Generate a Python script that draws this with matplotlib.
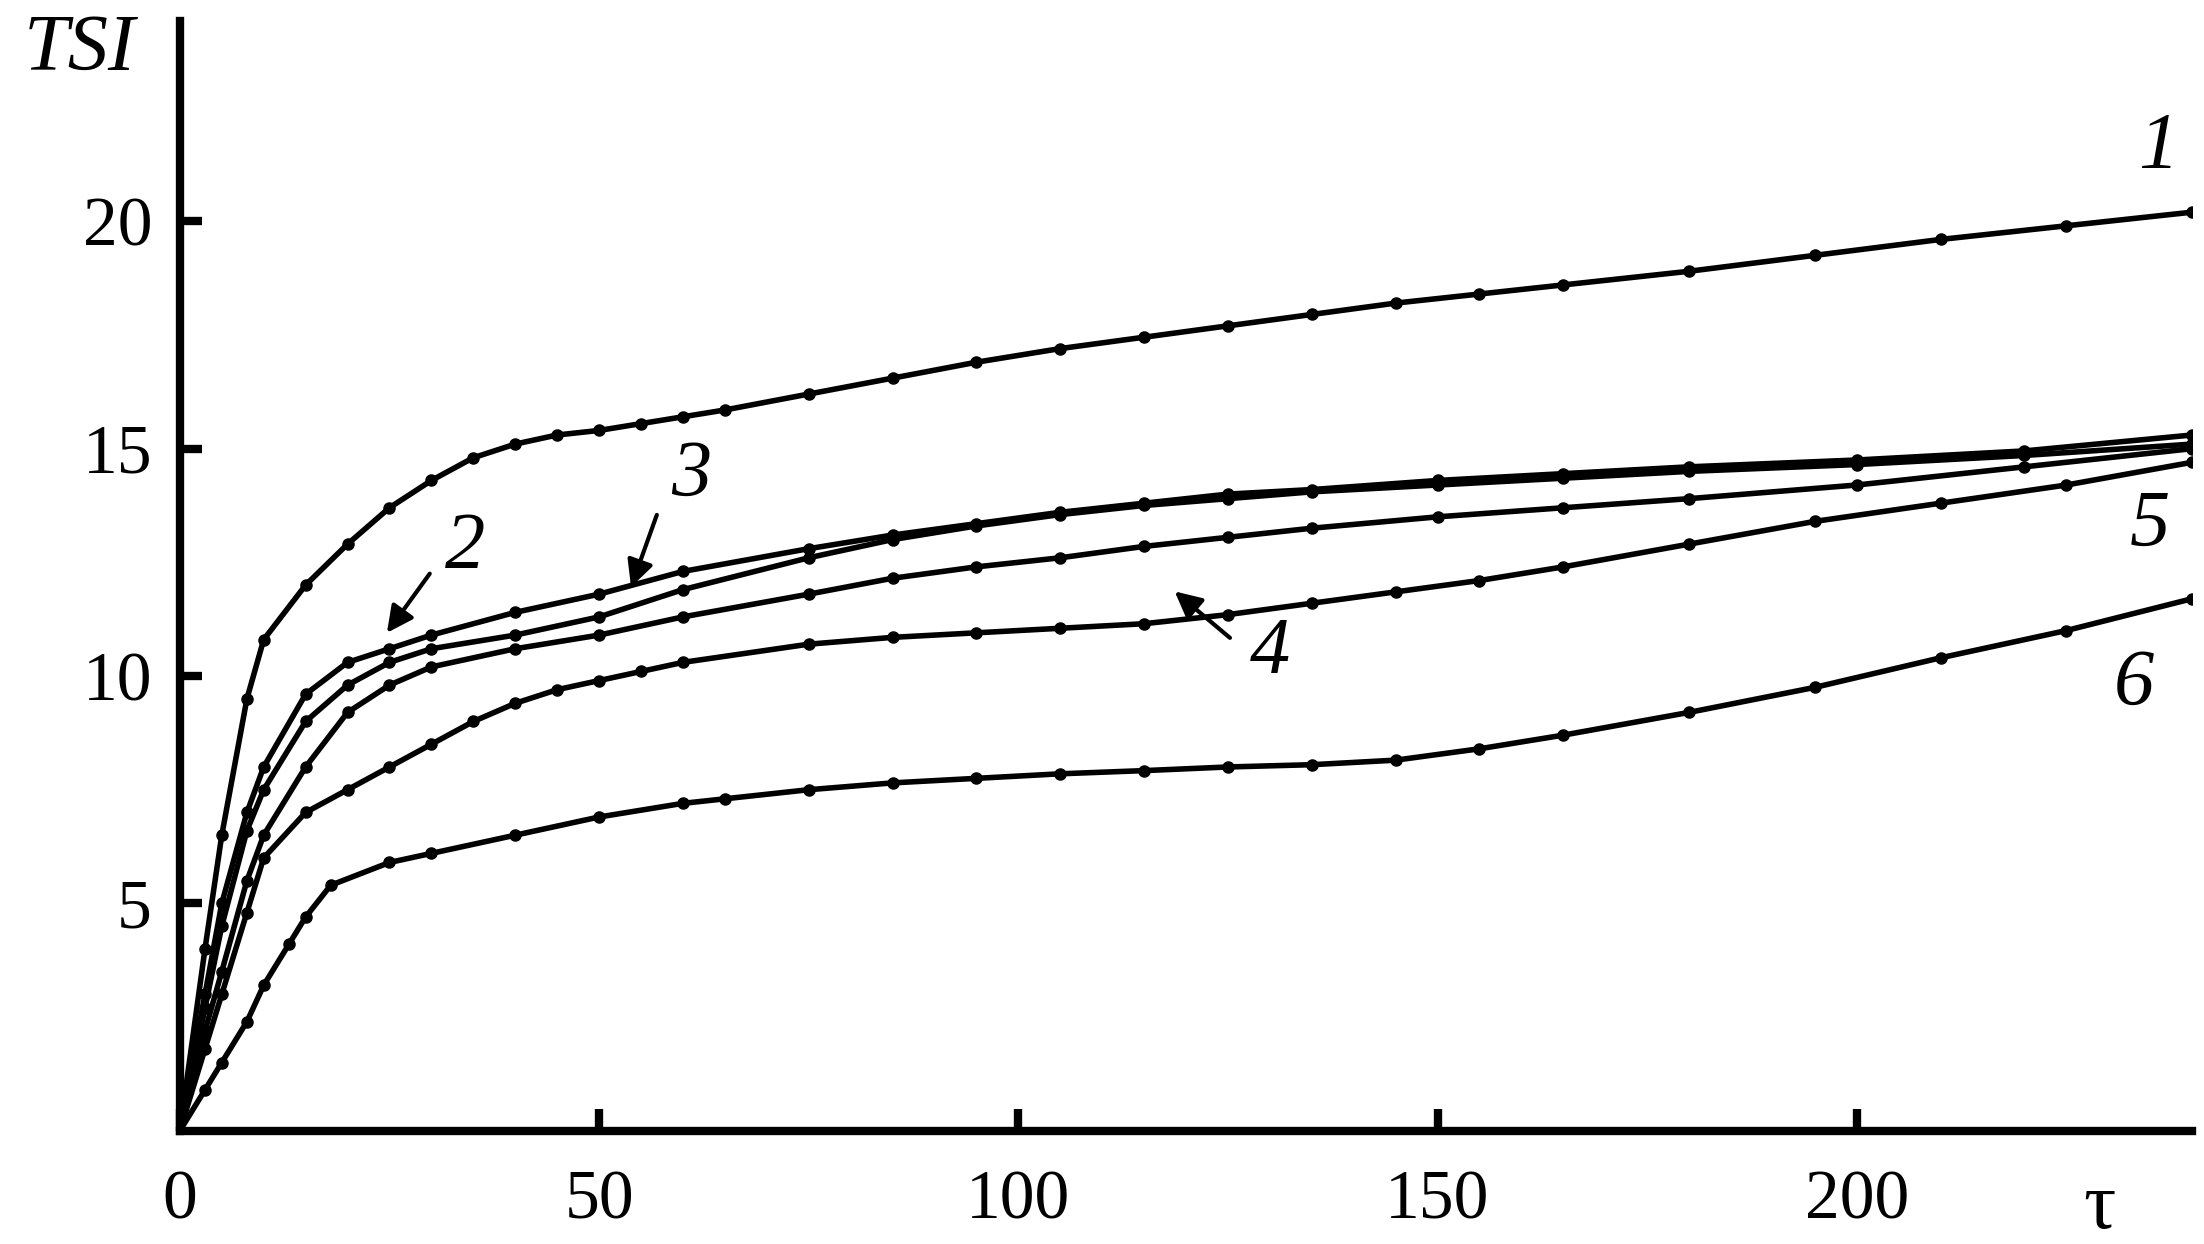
import matplotlib
matplotlib.use("Agg")
import matplotlib.pyplot as plt

x1 = [0, 3, 5, 8, 10, 15, 20, 25, 30, 35, 40, 45, 50, 55, 60, 65, 75, 85, 95, 105, 115, 125, 135, 145, 155, 165, 180, 195, 210, 225, 240]
y1 = [0, 4.0, 6.5, 9.5, 10.8, 12.0, 12.9, 13.7, 14.3, 14.8, 15.1, 15.3, 15.4, 15.55, 15.7, 15.85, 16.2, 16.55, 16.9, 17.2, 17.45, 17.7, 17.95, 18.2, 18.4, 18.6, 18.9, 19.25, 19.6, 19.9, 20.2]
x2 = [0, 3, 5, 8, 10, 15, 20, 25, 30, 40, 50, 60, 75, 85, 95, 105, 115, 125, 135, 150, 165, 180, 200, 220, 240]
y2 = [0, 3.0, 5.0, 7.0, 8.0, 9.6, 10.3, 10.6, 10.9, 11.4, 11.8, 12.3, 12.8, 13.1, 13.35, 13.6, 13.8, 14.0, 14.1, 14.3, 14.45, 14.6, 14.75, 14.95, 15.3]
x3 = [0, 3, 5, 8, 10, 15, 20, 25, 30, 40, 50, 60, 75, 85, 95, 105, 115, 125, 135, 150, 165, 180, 200, 220, 240]
y3 = [0, 2.7, 4.5, 6.6, 7.5, 9.0, 9.8, 10.3, 10.6, 10.9, 11.3, 11.9, 12.6, 13.0, 13.3, 13.55, 13.75, 13.9, 14.05, 14.2, 14.35, 14.5, 14.65, 14.85, 15.1]
x4 = [0, 3, 5, 8, 10, 15, 20, 25, 30, 40, 50, 60, 75, 85, 95, 105, 115, 125, 135, 150, 165, 180, 200, 220, 240]
y4 = [0, 2.2, 3.5, 5.5, 6.5, 8.0, 9.2, 9.8, 10.2, 10.6, 10.9, 11.3, 11.8, 12.15, 12.4, 12.6, 12.85, 13.05, 13.25, 13.5, 13.7, 13.9, 14.2, 14.6, 15.0]
x5 = [0, 3, 5, 8, 10, 15, 20, 25, 30, 35, 40, 45, 50, 55, 60, 75, 85, 95, 105, 115, 125, 135, 145, 155, 165, 180, 195, 210, 225, 240]
y5 = [0, 1.8, 3.0, 4.8, 6.0, 7.0, 7.5, 8.0, 8.5, 9.0, 9.4, 9.7, 9.9, 10.1, 10.3, 10.7, 10.85, 10.95, 11.05, 11.15, 11.35, 11.6, 11.85, 12.1, 12.4, 12.9, 13.4, 13.8, 14.2, 14.7]
x6 = [0, 3, 5, 8, 10, 13, 15, 18, 25, 30, 40, 50, 60, 65, 75, 85, 95, 105, 115, 125, 135, 145, 155, 165, 180, 195, 210, 225, 240]
y6 = [0, 0.9, 1.5, 2.4, 3.2, 4.1, 4.7, 5.4, 5.9, 6.1, 6.5, 6.9, 7.2, 7.3, 7.5, 7.65, 7.75, 7.85, 7.92, 8.0, 8.05, 8.15, 8.4, 8.7, 9.2, 9.75, 10.4, 11.0, 11.7]

series = [(x1, y1), (x2, y2), (x3, y3), (x4, y4), (x5, y5), (x6, y6)]
xticks = [0, 50, 100, 150, 200]
yticks = [5, 10, 15, 20]

plt.rcParams['font.family'] = ['Liberation Serif', 'DejaVu Serif']
fig = plt.figure(figsize=(22.04, 12.44), dpi=100)
ax = fig.add_axes([0.0816, 0.091, 0.913, 0.892])
for xs, ys in series:
    ax.plot(xs, ys, color='black', lw=4, marker='o', ms=8)

ax.set_xlim(0, 240)
ax.set_ylim(0, 24.4)
for s in ['top', 'right']:
    ax.spines[s].set_visible(False)
for s in ['left', 'bottom']:
    ax.spines[s].set_linewidth(6)
ax.set_xticks(xticks)
ax.set_yticks(yticks)
ax.tick_params(direction='in', length=16, width=6, labelsize=50, pad=20)
ax.tick_params(axis='x', pad=28)

kw = dict(fontsize=58, style='italic', ha='center', va='center')
ax.text(236, 21.6, '1', **kw)
ax.text(34, 12.8, '2', **kw)
ax.text(61, 14.4, '3', **kw)
ax.text(130, 10.5, '4', **kw)
ax.text(235, 13.3, '5', **kw)
ax.text(233, 9.8, '6', **kw)
ax.text(-12, 23.75, 'TSI', **kw, clip_on=False)
ax.text(229, -1.7, 'τ', fontsize=58, ha='center', va='center', clip_on=False)

ap = dict(arrowstyle='-|>', color='black', lw=3, mutation_scale=40)
ax.annotate('', xy=(24.5, 10.9), xytext=(30, 12.3), arrowprops=ap)
ax.annotate('', xy=(53.7, 11.9), xytext=(57, 13.6), arrowprops=ap)
ax.annotate('', xy=(118.4, 11.9), xytext=(125.5, 10.8), arrowprops=ap)

fig.savefig('out.png', dpi=100)
